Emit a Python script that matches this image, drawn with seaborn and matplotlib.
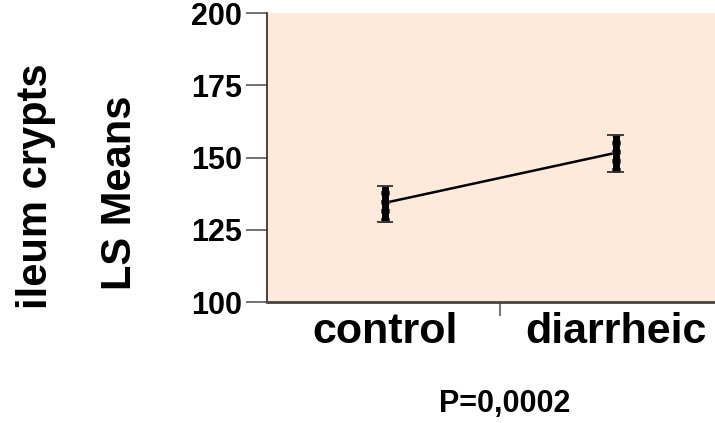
import matplotlib
matplotlib.use("Agg")
import matplotlib.pyplot as plt
import seaborn as sns
import pandas as pd
from matplotlib.ticker import FixedLocator

groups = ["control", "diarrheic"]
ls_means = [134.3, 151.6]
lower = [127.8, 145.1]
upper = [140.2, 157.9]
y_ticks = [100, 125, 150, 175, 200]

sns.set_theme(style="white")
plt.rcParams['font.family'] = ['Liberation Sans', 'DejaVu Sans']
plt.rcParams['text.color'] = 'black'
plt.rcParams['xtick.color'] = 'black'
plt.rcParams['ytick.color'] = 'black'

fig = plt.figure(figsize=(7.15, 4.23), dpi=100)
ax = fig.add_axes([267/715, 121/423, 464/715, 289/423])
ax.set_facecolor("#FDEADA")

df = pd.DataFrame({"group": groups, "mean": ls_means})
sns.pointplot(data=df, x="group", y="mean", color="black", markers="",
              linewidth=1.8, errorbar=None, ax=ax)

for i, (lo, hi) in enumerate(zip(lower, upper)):
    ax.vlines(i, lo, hi, color="black", linewidth=5, zorder=4)
    ax.vlines(i, lo, hi, color="#555555", linewidth=6.5, linestyles=(0, (0.5, 0.5)), zorder=3)
    ax.hlines([lo, hi], i - 0.035, i + 0.035, color="#333333", linewidth=1.3, zorder=4)

ax.set_xlim(-0.51, 1.5)
ax.set_ylim(100, 200)
ax.set_yticks(y_ticks)
ax.set_yticklabels([str(t) for t in y_ticks], fontsize=22, fontweight="bold", color="black")
ax.set_xticks([0, 1])
ax.set_xticklabels(groups, fontsize=31, fontweight="bold", color="black")
ax.xaxis.set_minor_locator(FixedLocator([0.5]))
ax.tick_params(axis="x", which="major", length=0, pad=7)
ax.tick_params(axis="x", which="minor", length=10, width=1.5, color="#777777", bottom=True)
ax.tick_params(axis="y", which="major", length=15, width=1.3, color="#666666", left=True, pad=3)
ax.set_xlabel("")
ax.set_ylabel("")

for s in ["top", "right"]:
    ax.spines[s].set_visible(False)
ax.spines["left"].set_color("#3a2010")
ax.spines["left"].set_linewidth(1.2)
ax.spines["bottom"].set_color("#444444")
ax.spines["bottom"].set_linewidth(2)
ax.spines["bottom"].set_linestyle((0, (1, 1)))

fig.text(36/715, 1 - 186/423, "ileum crypts", rotation=90, fontsize=30,
         fontweight="bold", ha="center", va="center", color="black")
fig.text(120/715, 1 - 193/423, "LS Means", rotation=90, fontsize=30,
         fontweight="bold", ha="center", va="center", color="black")
fig.text(505/715, 1 - 404/423, "P=0,0002", fontsize=22, fontweight="bold",
         ha="center", va="center", color="black")

fig.savefig("out.png", dpi=100)
